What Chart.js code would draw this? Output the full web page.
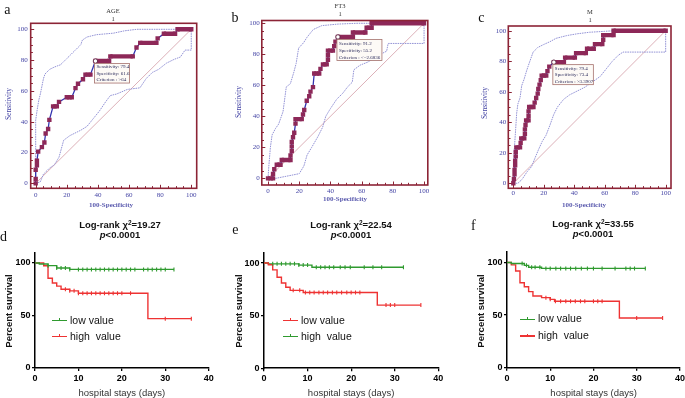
<!DOCTYPE html>
<html><head><meta charset="utf-8">
<script src="https://cdn.jsdelivr.net/npm/chart.js@4.4.1/dist/chart.umd.min.js"></script>
<style>
html,body{margin:0;padding:0;background:#fff;}
#wrap{position:relative;width:685px;height:398px;overflow:hidden;background:#fff;}
canvas{position:absolute;left:0;top:0;}
.t{position:absolute;white-space:pre;line-height:1;z-index:5;}
.sup{font-size:6.5px;position:relative;top:-3.5px;}
</style></head><body><div id="wrap"></div>
<script>
// ---------- ROC data ----------
const rocTicks = [0, 20, 40, 60, 80, 100];
const rocDiagonal = [0, 100];

// a: AGE
const ageX = [0,0,0,0.8,0.8,1.6,4,5.6,6.4,8,8.8,11.2,13.6,15,20,23.2,25.6,27.2,30.4,32,35.2,38.4,47.2,48,62.4,64.8,67.2,77.6,78.4,82.4,89.6,91.2,100];
const ageY = [0,2.9,8.8,11.8,14.7,20.6,23.5,26.5,32.4,35.3,41.2,50,50,52.9,55.9,55.9,61.8,64.7,67.6,70.6,70.6,79.4,79.4,82.4,82.4,88.2,91.2,91.2,94.1,97.1,97.1,100,100];
const ageUpX = [0,0,1,2,3,4,5,6,9,12,16,18,20,24,27,29,30,33,39,50,57,65,100];
const ageUpY = [0,41,48,54,58,63,68,71,74,75.5,77,79,81,85,88,90,93,95,96.5,97.5,99,100,100];
const ageLoX = [0,3,5,9,12,15,18,22,29,33,37,41,45,48,52,59,67,71,75,79,84,89,93,96,100,100];
const ageLoY = [0,1,6,10,12,17,28,31,34.5,37,42,47,53,57,58,61,62,68,72,74,78,80.5,82,86.5,86.5,100];
const ageCrit = {sens: 79.4, spec: 61.6, crit: '>64'};

// b: FT3
const ft3X = [0,3.2,3.2,4,5.6,8,8.8,14.4,14.4,15.2,15.2,15.2,16,16.8,17.6,17.6,21.6,22.4,23.2,24.8,26.4,27.2,28.8,29.6,32.8,33.6,35.2,37.6,38.4,38.4,38.4,41.6,42.4,43.2,44.8,54.4,54.4,62.4,63.2,66.4,66.4,100];
const ft3Y = [0,0,2.9,5.9,8.8,8.8,11.8,11.8,14.7,17.6,20.6,23.5,26.5,29.4,35.3,38.2,38.2,41.2,44.1,50,52.9,55.9,58.8,67.6,67.6,70.6,73.5,73.5,76.5,79.4,82.4,82.4,85.3,88.2,91.2,91.2,94.1,94.1,97.1,97.1,100,100];
const ft3UpX = [0,0.4,1.5,2.6,4.7,6.8,9.6,11.7,14.3,16.4,18,19.6,22.8,25,29,34.5,45,57,100];
const ft3UpY = [0,6.5,20,28,32,35,43,59,61,68,74,84,87.5,91,96,98.5,99.5,100,100];
const ft3LoX = [0,5,15,20,23,25,28,32,35,37,40,44,48,51,54,55,59,64,68,72,76,77,100,100];
const ft3LoY = [0,0,2,3,8,15,20,27,33,40,45,51,55,59,62,70,73,75,77.5,80,82,87,87,100];
const ft3Crit = {sens: 91.2, spec: 55.2, crit: '<=2.6836'};

// c: M
const mX = [0,0.4,0.8,0.8,1.2,1.2,1.6,1.6,2,4.4,4.8,5.2,7.2,7.6,7.6,8,8.4,10,10,10,10.4,13.2,14,15,16,16.4,17.2,18,18.6,21.6,22.4,23.6,26.6,33.2,34,40.4,41.2,47.6,48.4,52.8,53.6,58.4,59,59,65.8,65.8,100];
const mY = [0,2.9,5.9,8.8,11.8,14.7,17.6,20.6,23.5,23.5,26.5,29.4,29.4,32.4,35.3,38.2,41.2,41.2,44.1,47.1,50,50,52.9,55.9,58.8,61.8,64.7,67.6,70.6,70.6,73.5,76.5,79.4,79.4,82.4,82.4,85.3,85.3,88.2,88.2,91.2,91.2,94.1,97.1,97.1,100,100];
const mUpX = [0,0.5,1.5,2.2,3,4.4,5.5,7,8.8,10.5,13,16,20,24,28,35,42,50,60,66,100];
const mUpY = [0,20,35,46,52,56,64,68,74,79,86,89,91,92.8,95,96.8,98,99,99.6,100,100];
const mLoX = [0,3,5.7,9,12,14,16.5,19,21.5,24,26.5,29,33,37,42,47,52,57,61,65,69,72,100,100];
const mLoY = [0,0,2.5,7.5,11,16,22,27.5,31.5,38,45,50,55,58,60.5,63,66.5,70,75,80,84,86,86,100];
const mCrit = {sens: 79.4, spec: 73.4, crit: '>3.3907'};

// ---------- Kaplan-Meier data ----------
const kmXTicks = [0, 10, 20, 30, 40];
const kmYTicks = [0, 50, 100];

const dLowT = [0,1,3,5,8,32];
const dLowS = [100,99,97.5,95.2,93.9,93.9];
const dLowCens = [3,5,6,7,8,10,11,12,13,14,15,16,17,18,19,20,21,22,23,25,26,27,28,29,30,32];
const dHighT = [0,2,3,4,5,6,8,10,26,36];
const dHighS = [100,97.4,85.5,81,78,75,73.5,71.2,47,47];
const dHighCens = [7,8,9,10,11,12,13,14,15,16,17,18,19,20,22,30,36];
const dChi = '19.27';

const eLowT = [0,1,2,3,4,5,6,9,26,36];
const eLowS = [100,98.4,93.5,86.5,81,77,74,72,60,60];
const eLowCens = [6.7,8.2,9.5,10.5,11.5,12.6,13.6,14.6,15.7,16.7,17.8,19,20,21,22,28,29,30,36];
const eHighT = [0,1,8,11,32];
const eHighS = [100,99.2,98,96,96];
const eHighCens = [2,3,4,5,6,7,8,9,10,12,13,14,15,16,17.5,18.6,19.8,23,25,27,32];
const eChi = '22.54';

const fLowT = [0,1,4,5,8,32];
const fLowS = [100,99,97.3,95.5,94.4,94.4];
const fLowCens = [3.5,4.5,5.7,6.5,7.6,9,10,11.3,12.4,13.6,14.7,15.9,17.2,18.6,20,22,25,27.5,28.5,29.5,32];
const fHighT = [0,1,2,3,4,5,6,8,10,11,26,36];
const fHighS = [100,97.8,92,80.8,77,72.3,68.2,66.6,65,63.2,47.3,47.3];
const fHighCens = [9,10,11.2,12.4,13.6,14.7,15.8,17,18,20,21,22,30,36];
const fChi = '33.55';

const pText = '<0.0001';

// ---------- styling ----------
const MAROON = '#8c2436', SQUARE = '#8d2858', BLUE = '#3434b0', CI = '#9494d6', DIAG = '#dcb0b8', TICKBLUE = '#4545a5';
const GREEN = '#2f9a2f', RED = '#ee3333';
const wrap = document.getElementById('wrap');
Chart.defaults.font.family = '"Liberation Sans", Arial, sans-serif';

function newCanvas() {
  const c = document.createElement('canvas');
  c.width = 685; c.height = 398;
  wrap.appendChild(c);
  return c;
}
function pts(xs, ys) { return xs.map((v, i) => ({x: v, y: ys[i]})); }
function txt(html, x, y, css, mode) {
  const d = document.createElement('div');
  d.className = 't';
  d.innerHTML = html;
  d.style.cssText += css;
  d.style.left = x + 'px'; d.style.top = y + 'px';
  if (mode === 'rot') d.style.transform = 'translate(-50%,-50%) rotate(-90deg)';
  else if (mode === 'left') d.style.transform = 'translate(0,-50%)';
  else d.style.transform = 'translate(-50%,-50%)';
  wrap.appendChild(d);
}

const rocFrame = {
  id: 'rocFrame',
  afterDatasetsDraw(chart, args, o) {
    const {ctx, chartArea: a, scales: {x, y}} = chart;
    ctx.save();
    ctx.strokeStyle = MAROON;
    ctx.lineWidth = 1;
    ctx.beginPath();
    for (let v = 0; v <= 100; v += 5) {
      const len = v % 20 === 0 ? 3.5 : 2.2;
      const px = Math.round(x.getPixelForValue(v)) + 0.5;
      ctx.moveTo(px, a.bottom); ctx.lineTo(px, a.bottom - len);
      const py = Math.round(y.getPixelForValue(v)) + 0.5;
      ctx.moveTo(a.left, py); ctx.lineTo(a.left + len, py);
    }
    ctx.stroke();
    ctx.lineWidth = 1.6;
    ctx.strokeRect(a.left, a.top, a.right - a.left, a.bottom - a.top);
    // criterion label box
    const px = x.getPixelForValue(100 - o.spec), py = y.getPixelForValue(o.sens);
    const bx = px - 1, by = py + 2.5;
    ctx.fillStyle = '#fdfaf6';
    ctx.fillRect(bx, by, o.w, o.h);
    ctx.strokeStyle = '#a4706c'; ctx.lineWidth = 0.8;
    ctx.strokeRect(bx, by, o.w, o.h);
    ctx.fillStyle = '#2c2c5c';
    ctx.font = '5px "Liberation Serif", serif';
    ctx.textBaseline = 'middle';
    const lines = ['Sensitivity: ' + o.sens, 'Specificity: ' + o.spec, 'Criterion : ' + o.crit];
    lines.forEach((l, i) => ctx.fillText(l, bx + 2, by + o.h * (i + 0.5) / 3 + 0.3));
    ctx.restore();
  }
};

function makeRoc(cfg) {
  const tickFont = {family: '"Liberation Serif", serif', size: 7};
  const W = 28, H = 14;
  new Chart(newCanvas(), {
    type: 'line',
    data: {datasets: [
      {data: [{x: 100 - cfg.crit.spec, y: cfg.crit.sens}], showLine: false, pointStyle: 'circle', pointRadius: 2.2,
       pointBackgroundColor: '#fff', pointBorderColor: '#5a2040', pointBorderWidth: 0.9},
      {data: pts(cfg.x, cfg.y), borderColor: BLUE, borderWidth: 1.3, pointStyle: 'rect', pointRadius: 3.1,
       pointBackgroundColor: SQUARE, pointBorderWidth: 0,
       segment: {
         borderColor: c => c.p0.parsed.y === c.p1.parsed.y ? SQUARE : undefined,
         borderWidth: c => c.p0.parsed.y === c.p1.parsed.y ? 4.4 : undefined
       }},
      {data: pts(cfg.upX, cfg.upY), borderColor: CI, borderWidth: 1, borderDash: [1.6, 0.8], pointRadius: 0},
      {data: pts(cfg.loX, cfg.loY), borderColor: CI, borderWidth: 1, borderDash: [1.6, 0.8], pointRadius: 0},
      {data: pts(rocDiagonal, rocDiagonal), borderColor: DIAG, borderWidth: 1, pointRadius: 0}
    ]},
    options: {
      responsive: false, animation: false, events: [],
      layout: {padding: {left: cfg.L - W, right: 685 - cfg.R, top: cfg.T, bottom: 398 - cfg.B - H}},
      plugins: {legend: {display: false}, tooltip: {enabled: false},
        rocFrame: {sens: cfg.crit.sens, spec: cfg.crit.spec, crit: cfg.crit.crit, w: cfg.bw, h: cfg.bh}},
      scales: {
        x: {type: 'linear', min: cfg.xmin, max: cfg.xmax,
            afterBuildTicks: s => { s.ticks = rocTicks.map(v => ({value: v})); },
            afterFit: s => { s.height = H; s.paddingLeft = 0; s.paddingRight = 0; },
            grid: {display: false, drawTicks: false}, border: {display: false},
            ticks: {font: tickFont, color: TICKBLUE, padding: cfg.xpad, maxRotation: 0, autoSkip: false}},
        y: {type: 'linear', min: cfg.ymin, max: cfg.ymax,
            afterBuildTicks: s => { s.ticks = rocTicks.map(v => ({value: v})); },
            afterFit: s => { s.width = W; s.paddingTop = 0; s.paddingBottom = 0; },
            grid: {display: false, drawTicks: false}, border: {display: false},
            ticks: {font: tickFont, color: TICKBLUE, padding: cfg.ypad, autoSkip: false}}
      }
    },
    plugins: [rocFrame]
  });
}

function survAt(t, ts, ss) {
  let s = ss[0];
  for (let i = 0; i < ts.length; i++) if (ts[i] <= t) s = ss[i];
  return s;
}

function makeKm(cfg) {
  const tf = {family: '"Liberation Sans", Arial, sans-serif', size: 9, weight: 'bold'};
  const W = 30, H = 16;
  const ds = [];
  cfg.series.forEach(s => {
    ds.push({data: s.cens.map(t => ({x: t, y: survAt(t, s.t, s.s)})), showLine: false, pointStyle: 'line',
             pointRotation: 90, pointRadius: 2, pointBorderColor: s.color, pointBorderWidth: 1.1});
  });
  cfg.series.forEach(s => {
    ds.push({data: pts(s.t, s.s), stepped: 'before', borderColor: s.color, borderWidth: 1.4, pointRadius: 0});
  });
  new Chart(newCanvas(), {
    type: 'line',
    data: {datasets: ds},
    options: {
      responsive: false, animation: false, events: [],
      layout: {padding: {left: cfg.L - W, right: 685 - cfg.R, top: cfg.T, bottom: 398 - cfg.B - H}},
      plugins: {legend: {display: false}, tooltip: {enabled: false}},
      scales: {
        x: {type: 'linear', min: 0, max: 40,
            afterBuildTicks: s => { s.ticks = kmXTicks.map(v => ({value: v})); },
            afterFit: s => { s.height = H; s.paddingLeft = 0; s.paddingRight = 0; },
            grid: {display: true, drawOnChartArea: false, drawTicks: true, tickLength: 3, color: '#000', lineWidth: 1.3},
            border: {display: true, color: '#000', width: 1.5},
            ticks: {font: tf, color: '#000', padding: 2, maxRotation: 0, autoSkip: false}},
        y: {type: 'linear', min: 0, max: 110,
            afterBuildTicks: s => { s.ticks = kmYTicks.map(v => ({value: v})); },
            afterFit: s => { s.width = W; s.paddingTop = 0; s.paddingBottom = 0; },
            grid: {display: true, drawOnChartArea: false, drawTicks: true, tickLength: 3, color: '#000', lineWidth: 1.3},
            border: {display: true, color: '#000', width: 1.5},
            ticks: {font: tf, color: '#000', padding: 1.5, autoSkip: false}}
      }
    }
  });
  // legend
  cfg.series.forEach((s, i) => {
    const ly = cfg.legY[i];
    const ln = document.createElement('div');
    ln.style.cssText = `position:absolute;z-index:5;left:${cfg.legX}px;top:${ly - 0.75}px;width:15px;height:1.5px;background:${s.color}`;
    wrap.appendChild(ln);
    const tk = document.createElement('div');
    tk.style.cssText = `position:absolute;z-index:5;left:${cfg.legX + 7}px;top:${ly - 2.5}px;width:1.2px;height:2.5px;background:${s.color}`;
    wrap.appendChild(tk);
    txt(s.label, cfg.legX + 18, ly - 1, 'font:10.5px "Liberation Sans",Arial,sans-serif;color:#111;', 'left');
  });
  const f = '"Liberation Sans",Arial,sans-serif';
  txt('Log-rank χ<span class="sup">2</span>=' + cfg.chi, cfg.cx, cfg.titleY, `font:bold 9.5px ${f};color:#111;`);
  txt('<i>p</i>' + pText, cfg.cx, cfg.titleY + 10, `font:bold 9.5px ${f};color:#111;`);
  txt('Percent survival', cfg.ylx, 311, `font:bold 9.5px ${f};color:#111;`, 'rot');
  txt('hospital stays (days)', (cfg.L + cfg.R) / 2, 392, `font:9.5px ${f};color:#333;`);
  txt(cfg.letter, cfg.letX, cfg.letY, 'font:14px "Liberation Serif",serif;color:#111;');
}

// ---------- build ROC panels ----------
const serif = '"Liberation Serif",serif';
makeRoc({x: ageX, y: ageY, upX: ageUpX, upY: ageUpY, loX: ageLoX, loY: ageLoY, crit: ageCrit,
  L: 30.7, R: 196.7, T: 23.3, B: 188.3, xmin: -3.2, xmax: 103.5, ymin: -3.2, ymax: 103.9, xpad: 3, ypad: 3, bw: 35, bh: 19.5});
makeRoc({x: ft3X, y: ft3Y, upX: ft3UpX, upY: ft3UpY, loX: ft3LoX, loY: ft3LoY, crit: ft3Crit,
  L: 261.8, R: 427.8, T: 20.5, B: 185, xmin: -4.0, xmax: 102.4, ymin: -4.3, ymax: 101.8, xpad: 1.5, ypad: 2, bw: 45, bh: 21});
makeRoc({x: mX, y: mY, upX: mUpX, upY: mUpY, loX: mLoX, loY: mLoY, crit: mCrit,
  L: 508.3, R: 671, T: 26, B: 188.3, xmin: -3.3, xmax: 103.5, ymin: -3.3, ymax: 103.1, xpad: 1, ypad: 2, bw: 40.5, bh: 20});

[['a', 7.3, 10.2, 'AGE', 113, 10, 7.5, 104, 111, 205],
 ['b', 235, 17.5, 'FT3', 340, 5, 237.7, 101.7, 345, 199],
 ['c', 481.3, 18, 'M', 590, 11, 484.3, 103, 584, 205]].forEach(p => {
  txt(p[0], p[1], p[2], `font:14px ${serif};color:#111;`);
  txt(p[3], p[4], p[5], `font:6.5px ${serif};color:#333;`);
  txt('1', p[4], p[5] + 8, `font:6.5px ${serif};color:#333;`);
  txt('Sensitivity', p[6], p[7], `font:7.5px ${serif};color:${TICKBLUE};`, 'rot');
  txt('100-Specificity', p[8], p[9], `font:bold 7px ${serif};color:#5a5aae;`);
});

// ---------- build KM panels ----------
makeKm({L: 35, R: 208.7, T: 252.5, B: 368, chi: dChi, cx: 120, titleY: 224, ylx: 8.3, letter: 'd', letX: 3.5, letY: 237,
  legX: 52, legY: [320.5, 336.7],
  series: [{t: dLowT, s: dLowS, cens: dLowCens, color: GREEN, label: 'low value'},
           {t: dHighT, s: dHighS, cens: dHighCens, color: RED, label: 'high  value'}]});
makeKm({L: 264, R: 438.3, T: 252.5, B: 368.2, chi: eChi, cx: 351, titleY: 224, ylx: 237.7, letter: 'e', letX: 235.3, letY: 230,
  legX: 283, legY: [320.7, 336.7],
  series: [{t: eLowT, s: eLowS, cens: eLowCens, color: RED, label: 'low value'},
           {t: eHighT, s: eHighS, cens: eHighCens, color: GREEN, label: 'high  value'}]});
makeKm({L: 507, R: 680.3, T: 252, B: 367.7, chi: fChi, cx: 593, titleY: 223, ylx: 480, letter: 'f', letX: 473.3, letY: 226,
  legX: 520, legY: [319.3, 336],
  series: [{t: fLowT, s: fLowS, cens: fLowCens, color: GREEN, label: 'low value'},
           {t: fHighT, s: fHighS, cens: fHighCens, color: RED, label: 'high  value'}]});
</script></body></html>
